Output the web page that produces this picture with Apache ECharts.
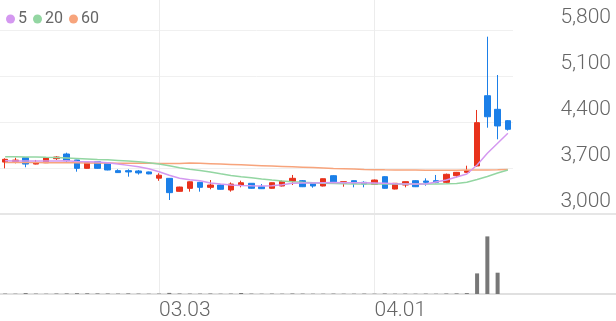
<!DOCTYPE html>
<html><head><meta charset="utf-8">
<script src="https://cdn.jsdelivr.net/npm/echarts@6/dist/echarts.min.js"></script>
<style>html,body{margin:0;padding:0;background:#fff}#c{width:616px;height:321px}</style>
</head><body><div id="c"></div>
<script>
const dates = ["02.04","02.05","02.06","02.09","02.10","02.11","02.12","02.13","02.19","02.20","02.23","02.24","02.25","02.26","02.27","03.03","03.04","03.05","03.06","03.09","03.10","03.11","03.12","03.13","03.16","03.17","03.18","03.19","03.20","03.23","03.24","03.25","03.26","03.27","03.30","03.31","04.01","04.02","04.03","04.06","04.07","04.08","04.09","04.10","04.13","04.14","04.15","04.16","04.17","04.20"];
const openP  = [3790,3800,3857,3760,3780,3842,3913,3822,3695,3796,3771,3660,3660,3655,3640,3545,3543,3345,3390,3482,3406,3441,3365,3437,3467,3415,3391,3426,3497,3507,3467,3426,3583,3467,3507,3482,3452,3568,3380,3441,3507,3502,3507,3482,3583,3634,3731,4800,4593,4420];
const highP  = [3848,3857,3860,3822,3862,3882,3933,3825,3785,3800,3775,3680,3680,3670,3645,3620,3545,3415,3495,3490,3517,3450,3480,3507,3470,3456,3480,3510,3594,3517,3470,3540,3590,3492,3510,3497,3525,3575,3470,3495,3515,3543,3594,3615,3640,3735,4583,5698,5115,4430];
const lowP   = [3695,3771,3711,3755,3775,3822,3780,3644,3690,3690,3665,3625,3568,3600,3605,3505,3213,3340,3340,3340,3376,3370,3340,3406,3385,3380,3385,3420,3441,3410,3400,3420,3470,3415,3406,3406,3445,3385,3375,3406,3410,3431,3467,3475,3558,3630,3720,4313,4137,4270];
const closeP = [3832,3820,3760,3780,3857,3867,3811,3695,3780,3695,3670,3630,3640,3625,3610,3590,3325,3410,3490,3406,3441,3376,3456,3476,3391,3385,3476,3497,3543,3415,3426,3537,3476,3492,3467,3456,3517,3391,3467,3492,3415,3482,3482,3604,3634,3660,4390,4480,4340,4289];
const ma5  = [3811,3808,3806,3805,3806,3808,3810,3800,3795,3790,3781,3760,3740,3720,3690,3644,3590,3543,3520,3507,3472,3455,3441,3435,3430,3426,3430,3445,3467,3470,3472,3476,3478,3476,3476,3476,3472,3467,3462,3458,3456,3456,3487,3517,3563,3609,3746,3924,4076,4228];
const ma20 = [3872,3871,3869,3867,3862,3858,3852,3845,3838,3831,3825,3815,3805,3795,3781,3760,3735,3705,3680,3662,3639,3612,3586,3567,3550,3533,3518,3504,3491,3482,3474,3467,3463,3460,3458,3456,3456,3455,3455,3455,3456,3457,3458,3460,3464,3482,3525,3571,3624,3670];
const ma60 = [3785,3784,3783,3782,3781,3780,3779,3778,3777,3776,3775,3774,3773,3772,3771,3770,3769,3768,3776,3772,3766,3760,3754,3748,3742,3736,3730,3724,3718,3712,3706,3700,3694,3689,3684,3679,3675,3672,3670,3669,3668,3667,3667,3667,3667,3668,3669,3671,3673,3676];
const volume = [40000,30000,90000,40000,30000,50000,60000,80000,70000,60000,50000,40000,60000,40000,30000,40000,110000,50000,40000,40000,50000,30000,40000,100000,40000,30000,40000,30000,50000,40000,30000,30000,40000,30000,30000,40000,30000,50000,30000,40000,30000,40000,30000,50000,60000,90000,2060000,5760000,2130000,0];
const priceTicks = {min: 3000, max: 5800, interval: 700};
const monthStarts = ["03.03","04.01"];

const labelFont = {fontFamily: 'Roboto', fontSize: 21, fontWeight: 300, color: '#666'};
const chart = echarts.init(document.getElementById('c'), null, {renderer: 'canvas'});
const candleData = dates.map((d, i) => [openP[i], closeP[i], lowP[i], highP[i]]);

chart.setOption({
  animation: false,
  backgroundColor: '#fff',
  legend: {
    data: ['5', '20', '60'], left: 1, top: 6, icon: 'circle', itemWidth: 9, itemHeight: 9, itemGap: 6,
    textStyle: {fontFamily: 'Roboto', fontSize: 16, color: '#666', padding: [0, 0, 0, -2]}
  },
  grid: [
    {left: 0, top: 30, width: 513, height: 184},
    {left: 0, top: 214, width: 513, height: 80},
    {left: 5.13, top: 0, width: 502.74, height: 294},
    {left: 0, right: 0, top: 30, height: 184},
    {left: 0, right: 0, top: 214, height: 80}
  ],
  xAxis: [
    {type: 'category', gridIndex: 0, data: dates, boundaryGap: true, axisLine: {show: false}, axisTick: {show: false}, axisLabel: {show: false}, splitLine: {show: false}},
    {type: 'category', gridIndex: 1, data: dates, boundaryGap: true, axisLine: {show: false}, axisTick: {show: false}, axisLabel: {show: false}, splitLine: {show: false}},
    {type: 'category', gridIndex: 2, data: dates, boundaryGap: false, axisLine: {show: false}, axisTick: {show: false},
      axisLabel: Object.assign({show: true, align: 'left', margin: 6, interval: (i, v) => monthStarts.includes(v)}, labelFont),
      splitLine: {show: true, interval: (i, v) => monthStarts.includes(v), lineStyle: {color: '#ececec', width: 1}}},
    {type: 'value', gridIndex: 3, min: 0, max: 1, axisLine: {show: true, lineStyle: {color: '#e6e6e6', width: 2}}, axisTick: {show: false}, axisLabel: {show: false}, splitLine: {show: false}},
    {type: 'value', gridIndex: 4, min: 0, max: 1, axisLine: {show: true, lineStyle: {color: '#e0e0e0', width: 2}}, axisTick: {show: false}, axisLabel: {show: false}, splitLine: {show: false}}
  ],
  yAxis: [
    {type: 'value', gridIndex: 0, position: 'right', min: priceTicks.min, max: priceTicks.max, interval: priceTicks.interval,
      axisLine: {show: false}, axisTick: {show: false},
      axisLabel: Object.assign({align: 'right', verticalAlign: 'bottom', lineHeight: 24, margin: 98, formatter: v => v.toLocaleString('en-US')}, labelFont),
      splitLine: {show: true, lineStyle: {color: '#f0f0f0', width: 1}}},
    {type: 'value', gridIndex: 1, min: 0, max: 8000000, show: false},
    {type: 'value', gridIndex: 2, show: false},
    {type: 'value', gridIndex: 3, show: false},
    {type: 'value', gridIndex: 4, show: false}
  ],
  series: [
    {type: 'candlestick', name: 'price', xAxisIndex: 0, yAxisIndex: 0, data: candleData, barWidth: 6,
      itemStyle: {color: '#e8321c', color0: '#1b7fe8', borderColor: '#e8321c', borderColor0: '#1b7fe8', borderWidth: 1}},
    {type: 'line', name: '60', xAxisIndex: 0, yAxisIndex: 0, data: ma60, symbol: 'none', color: '#f7a47c', lineStyle: {width: 1.5, color: '#f7a47c'}},
    {type: 'line', name: '20', xAxisIndex: 0, yAxisIndex: 0, data: ma20, symbol: 'none', color: '#93d6a2', lineStyle: {width: 1.5, color: '#93d6a2'}},
    {type: 'line', name: '5', xAxisIndex: 0, yAxisIndex: 0, data: ma5, symbol: 'none', color: '#d498f0', lineStyle: {width: 1.5, color: '#d498f0'}},
    {type: 'bar', name: 'volume', xAxisIndex: 1, yAxisIndex: 1, data: volume, barWidth: 4, itemStyle: {color: '#777'}}
  ]
});
</script></body></html>
